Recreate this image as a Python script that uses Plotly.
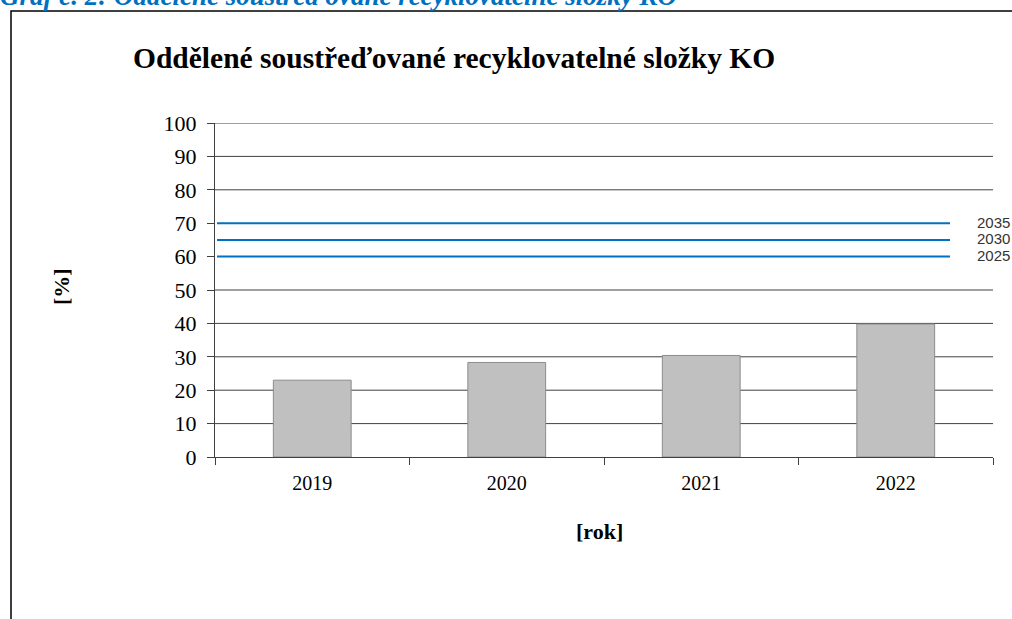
import plotly.graph_objects as go

years = ["2019", "2020", "2021", "2022"]
shares = [23.0, 28.3, 30.4, 39.8]
target_years = ["2035", "2030", "2025"]
target_values = [70, 65, 60]
y_ticks = [0, 10, 20, 30, 40, 50, 60, 70, 80, 90, 100]

W, H = 1012, 619
L, R, T, B = 215, 993, 123, 457

def px(x):
    return (x - L) / (R - L)

def py(y):
    return (B - y) / (B - T)

SERIF = "Liberation Serif"
SANS = "Liberation Sans"

fig = go.Figure()
fig.add_trace(go.Bar(
    x=years, y=shares, width=0.4,
    marker=dict(color="#C0C0C0", line=dict(color="#8C8C8C", width=1)),
    showlegend=False, hoverinfo="x+y",
))

shapes = []
annotations = []
# horizontal gridlines (hidden where a target line replaces them)
for v in y_ticks:
    if v == 0 or v in target_values:
        continue
    shapes.append(dict(type="line", xref="paper", yref="y", x0=0, x1=1, y0=v, y1=v,
                       line=dict(color="#404040", width=1), layer="below"))

for ty, tv in zip(target_years, target_values):
    shapes.append(dict(type="line", xref="paper", yref="y", x0=px(217), x1=px(950),
                       y0=tv, y1=tv, line=dict(color="#0070C0", width=2)))
    annotations.append(dict(xref="paper", yref="y", x=px(975), y=tv, yshift=1, text=ty,
                            showarrow=False, xanchor="left", yanchor="middle",
                            font=dict(family=SANS, size=15, color="#333333")))

# outer frame
shapes.append(dict(type="rect", xref="paper", yref="paper", x0=px(11), x1=px(1030),
                   y0=py(640), y1=py(11), line=dict(color="#000000", width=1.5), layer="below"))

annotations += [
    dict(xref="paper", yref="paper", x=px(-2), y=py(-4), xanchor="left", yanchor="middle",
         text="<b><i>Graf č. 2: Oddělené soustřeďované recyklovatelné složky KO</i></b>",
         showarrow=False, font=dict(family=SERIF, size=27, color="#0070C0")),
    dict(xref="paper", yref="paper", x=px(131), y=py(58), xanchor="left", yanchor="middle",
         text="<b>Oddělené soustřeďované recyklovatelné složky KO</b>",
         showarrow=False, font=dict(family=SERIF, size=29.5, color="#000000")),
    dict(xref="paper", yref="paper", x=px(61), y=py(287), xanchor="center", yanchor="middle",
         text="<b>[%]</b>", textangle=-90,
         showarrow=False, font=dict(family=SERIF, size=22, color="#000000")),
    dict(xref="paper", yref="paper", x=px(599), y=py(531), xanchor="center", yanchor="middle",
         text="<b>[rok]</b>",
         showarrow=False, font=dict(family=SERIF, size=22, color="#000000")),
]

fig.update_layout(
    width=W, height=H,
    margin=dict(l=L, r=W - R, t=T, b=H - B, pad=0),
    paper_bgcolor="white", plot_bgcolor="white",
    shapes=shapes, annotations=annotations,
    bargap=0.6,
)
fig.update_xaxes(
    type="category", range=[-0.5, 3.5], tickson="boundaries",
    ticks="outside", ticklen=7, tickcolor="#404040", tickwidth=1,
    showline=True, linecolor="#404040", linewidth=1,
    showgrid=False, zeroline=False,
    tickfont=dict(family=SERIF, size=20, color="#000000"),
    ticklabelstandoff=8,
)
fig.update_yaxes(
    range=[0, 100], tickvals=y_ticks, ticktext=[str(v) for v in y_ticks],
    ticks="outside", ticklen=7, tickcolor="#404040", tickwidth=1,
    showline=True, linecolor="#404040", linewidth=1,
    showgrid=False, zeroline=False,
    tickfont=dict(family=SERIF, size=22, color="#000000"),
    ticklabelstandoff=6,
)

fig.write_html(
    "out.html",
    config={"displayModeBar": False},
    post_script="document.body.style.margin='0';document.body.style.overflow='hidden';",
)
